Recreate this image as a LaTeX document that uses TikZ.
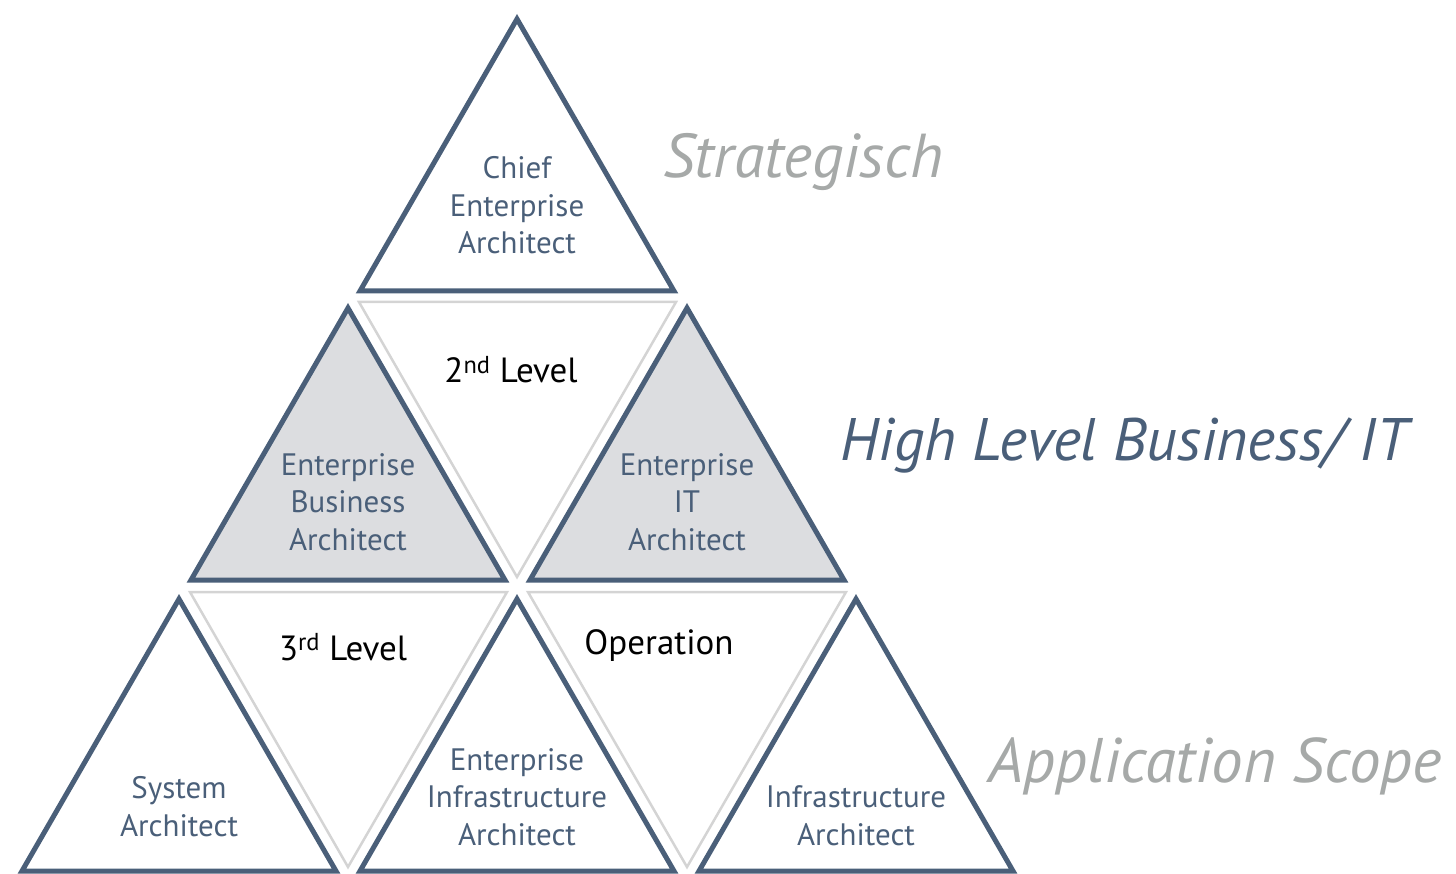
\documentclass[tikz,border=0pt]{standalone}
\usepackage{fontspec}
\setmainfont{PT Sans}
\definecolor{slate}{HTML}{4A5F79}
\definecolor{lightfill}{HTML}{DCDDE0}
\definecolor{lightline}{HTML}{D4D4D4}
\definecolor{labelgray}{HTML}{A6A9A8}
\begin{document}
\begin{tikzpicture}[x=1pt,y=-1pt,
  uptri/.style={draw=slate,line width=5pt,line join=miter},
  downtri/.style={draw=lightline,line width=2.5pt,line join=miter},
  role/.style={text=slate,font=\fontsize{31}{37.5}\selectfont,align=center,anchor=base,inner sep=0pt},
  level/.style={text=black,font=\fontsize{35}{40}\selectfont,anchor=base,inner sep=0pt},
  side/.style={font=\fontsize{62}{70}\selectfont\itshape,anchor=base west,inner sep=0pt}]
\useasboundingbox (0,0) rectangle (1456,874);
% inverted (light) triangles
\draw[downtri] (359,302) -- (676,302) -- (517,577) -- cycle;
\draw[downtri] (190,592) -- (507,592) -- (348,867) -- cycle;
\draw[downtri] (528,592) -- (846,592) -- (687,867) -- cycle;
% upright triangles
\draw[uptri] (360,291) -- (517,19) -- (674,291) -- cycle;
\draw[uptri,fill=lightfill] (191,580) -- (348,308) -- (505,580) -- cycle;
\draw[uptri,fill=lightfill] (530,580) -- (687,308) -- (844,580) -- cycle;
\draw[uptri] (22,871) -- (179,599) -- (336,871) -- cycle;
\draw[uptri] (360,871) -- (517,599) -- (674,871) -- cycle;
\draw[uptri] (699,871) -- (856,599) -- (1013,871) -- cycle;
% role texts (anchor = baseline of last line)
\node[role] (chief) at (517,254) {Chief\\Enterprise\\Architect};
\node[role] (eba) at (348,550) {Enterprise\\Business\\Architect};
\node[role] (eita) at (687,550) {Enterprise\\IT\\Architect};
\node[role] (sys) at (179,836) {System\\Architect};
\node[role] (eia) at (517,845) {Enterprise\\Infrastructure\\Architect};
\node[role] (ia) at (856,845) {Infrastructure\\Architect};
% level texts
\node[level] (l2) at (511,383) {2\textsuperscript{nd} Level};
\node[level] (l3) at (343,660) {3\textsuperscript{rd} Level};
\node[level] (op) at (659,654) {Operation};
% side labels
\node[side,text=labelgray] (strat) at (663,178) {Strategisch};
\node[side,text=slate,font=\fontsize{60}{70}\selectfont\itshape] (high) at (840,460) {High Level Business/ IT};
\node[side,text=labelgray,font=\fontsize{63}{70}\selectfont\itshape] (app) at (988,782) {Application Scope};
\end{tikzpicture}
\end{document}
